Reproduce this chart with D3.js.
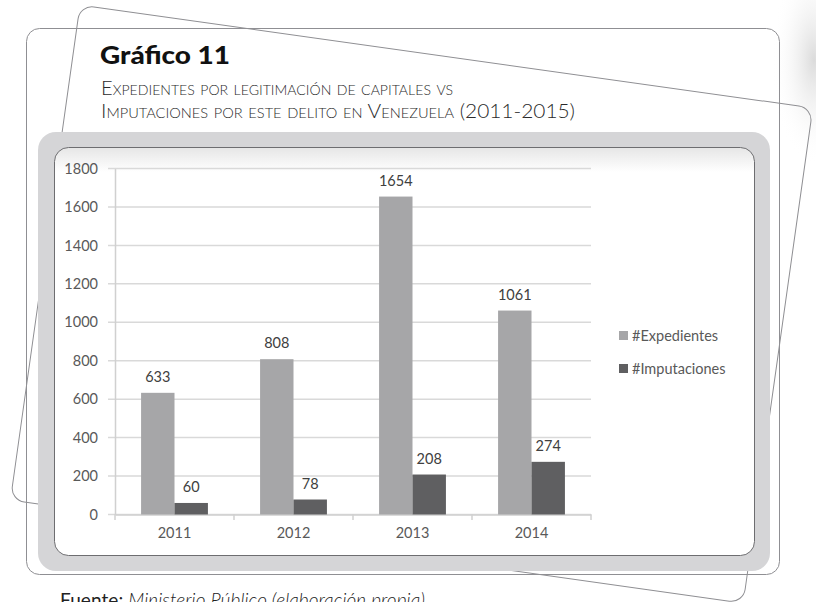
<!DOCTYPE html>
<html>
<head>
<meta charset="utf-8">
<script src="https://cdn.jsdelivr.net/npm/d3@7"></script>
<style>
  html, body { margin: 0; padding: 0; background: #fff; }
  svg { display: block; }
</style>
</head>
<body>
<svg id="chart" width="816" height="602"></svg>
<script>
// ---- data ----
const years = ["2011", "2012", "2013", "2014"];
const seriesNames = ["#Expedientes", "#Imputaciones"];
const expedientes = [633, 808, 1654, 1061];
const imputaciones = [60, 78, 208, 274];
const yTicks = [0, 200, 400, 600, 800, 1000, 1200, 1400, 1600, 1800];
const seriesColors = ["#a6a6a8", "#5f5f61"];
const titleText = "Gráfico 11";
const subtitleLines = ["Expedientes por legitimación de capitales vs",
                       "Imputaciones por este delito en Venezuela (2011-2015)"];
const sourceLabel = "Fuente:";
const sourceText = "Ministerio Público (elaboración propia)";

const rows = years.map((y, i) => ({ year: y, values: [expedientes[i], imputaciones[i]] }));

const svg = d3.select("#chart");
const defs = svg.append("defs");

// smudge gradient
const rg = defs.append("radialGradient").attr("id", "smudge");
rg.append("stop").attr("offset", "0%").attr("stop-color", "#cfcfcf").attr("stop-opacity", 0.75);
rg.append("stop").attr("offset", "100%").attr("stop-color", "#ffffff").attr("stop-opacity", 0);
svg.append("ellipse").attr("cx", 814).attr("cy", 60).attr("rx", 42).attr("ry", 105)
  .attr("fill", "url(#smudge)");

// inner panel gradient (soft shading near the top edge)
const lg = defs.append("linearGradient").attr("id", "panelTop").attr("x1", 0).attr("y1", 0).attr("x2", 0).attr("y2", 1);
lg.append("stop").attr("offset", "0%").attr("stop-color", "#e6e6e6");
lg.append("stop").attr("offset", "6%").attr("stop-color", "#ffffff");
lg.append("stop").attr("offset", "100%").attr("stop-color", "#ffffff");

// ---- decorative frames ----
svg.append("rect")
  .attr("transform", "translate(80,5) rotate(8)")
  .attr("x", 0).attr("y", 0).attr("width", 740).attr("height", 500)
  .attr("rx", 14).attr("ry", 14)
  .attr("fill", "none").attr("stroke", "#8f8f93").attr("stroke-width", 1);

svg.append("rect")
  .attr("x", 26.5).attr("y", 28.5).attr("width", 753).attr("height", 546)
  .attr("rx", 13).attr("ry", 13)
  .attr("fill", "none").attr("stroke", "#8f8f93").attr("stroke-width", 1);

svg.append("rect")
  .attr("x", 38).attr("y", 132).attr("width", 732).attr("height", 439)
  .attr("rx", 18).attr("ry", 18)
  .attr("fill", "#d5d5d7");

svg.append("rect")
  .attr("x", 54.5).attr("y", 147.5).attr("width", 700).attr("height", 408)
  .attr("rx", 14).attr("ry", 14)
  .attr("fill", "url(#panelTop)").attr("stroke", "#6d6d70").attr("stroke-width", 1);

// ---- titles ----
svg.append("text")
  .attr("x", 100).attr("y", 64)
  .attr("font-family", "Lato, 'Noto Sans', sans-serif")
  .attr("font-weight", 900).attr("font-size", 24).attr("fill", "#111")
  .attr("textLength", 130).attr("lengthAdjust", "spacingAndGlyphs")
  .text(titleText);

const subLens = [352, 474];
svg.selectAll("text.sub").data(subtitleLines).enter().append("text")
  .attr("class", "sub")
  .attr("x", 101).attr("y", (d, i) => 95 + i * 23)
  .attr("font-family", "Lato, 'Noto Sans', sans-serif")
  .attr("font-weight", 300).attr("font-size", 20).attr("fill", "#2a2a2a")
  .attr("textLength", (d, i) => subLens[i]).attr("lengthAdjust", "spacingAndGlyphs")
  .style("font-variant-caps", "small-caps")
  .text(d => d);

// source line (cut at the bottom edge, as in the reference)
const src = svg.append("text").attr("x", 60).attr("y", 607)
  .attr("font-family", "Lato, 'Noto Sans', sans-serif").attr("font-size", 19).attr("fill", "#222")
  .attr("textLength", 365).attr("lengthAdjust", "spacing");
src.append("tspan").attr("font-weight", 400).text(sourceLabel + " ");
src.append("tspan").attr("font-weight", 300).attr("font-style", "italic").text(sourceText);

// ---- chart ----
const x0 = d3.scaleBand().domain(years).range([115, 591]).paddingInner(0).paddingOuter(0);
const x1 = d3.scaleBand().domain(seriesNames).range([0, x0.bandwidth()]).paddingInner(0).paddingOuter(0.78);
const y = d3.scaleLinear().domain([0, 1800]).range([514.5, 168.5]);

const font = "Lato, 'Open Sans', sans-serif";
const textColor = "#595959";

svg.append("g").selectAll("line").data(yTicks).enter().append("line")
  .attr("x1", 108).attr("x2", 591)
  .attr("y1", d => y(d)).attr("y2", d => y(d))
  .attr("stroke", "#d9d9d9").attr("stroke-width", 1.5);

const yAxis = svg.append("g").attr("transform", "translate(115,0)")
  .call(d3.axisLeft(y).tickValues(yTicks).tickSize(0).tickPadding(17).tickFormat(d3.format("d")));
yAxis.select(".domain").attr("stroke", "#d0d0d0").attr("stroke-width", 1.5);
yAxis.selectAll("text").attr("font-family", font).attr("font-size", 14.5).attr("fill", textColor);

const xAxis = svg.append("g").attr("transform", "translate(0,514.5)")
  .call(d3.axisBottom(x0).tickSize(0).tickPadding(13));
xAxis.select(".domain").attr("stroke", "#d0d0d0").attr("stroke-width", 1.5);
xAxis.selectAll("text").attr("font-family", font).attr("font-size", 14.5).attr("fill", textColor);
svg.append("g").selectAll("line").data(years.concat(["end"])).enter().append("line")
  .attr("x1", (d, i) => i < years.length ? x0(d) : x0(years[years.length - 1]) + x0.bandwidth())
  .attr("x2", (d, i) => i < years.length ? x0(d) : x0(years[years.length - 1]) + x0.bandwidth())
  .attr("y1", 514.5).attr("y2", 520)
  .attr("stroke", "#d0d0d0").attr("stroke-width", 1.5);

const groups = svg.append("g").selectAll("g").data(rows).enter().append("g")
  .attr("transform", d => `translate(${x0(d.year)},0)`);
groups.selectAll("rect").data(d => d.values.map((v, i) => ({ name: seriesNames[i], v, i })))
  .enter().append("rect")
  .attr("x", d => x1(d.name)).attr("width", x1.bandwidth())
  .attr("y", d => y(d.v)).attr("height", d => y(0) - y(d.v))
  .attr("fill", d => seriesColors[d.i]);
groups.selectAll("text").data(d => d.values.map((v, i) => ({ name: seriesNames[i], v, i })))
  .enter().append("text")
  .attr("x", d => x1(d.name) + x1.bandwidth() / 2)
  .attr("y", d => y(d.v) - 11)
  .attr("text-anchor", "middle")
  .attr("font-family", font).attr("font-size", 14.5).attr("fill", "#404040")
  .text(d => d.v);

const legend = svg.append("g").selectAll("g").data(seriesNames).enter().append("g")
  .attr("transform", (d, i) => `translate(619,${331 + i * 33})`);
legend.append("rect").attr("width", 9).attr("height", 9).attr("fill", (d, i) => seriesColors[i]);
legend.append("text").attr("x", 13).attr("y", 9.5)
  .attr("font-family", font).attr("font-size", 14.5).attr("fill", textColor)
  .text(d => d);
</script>
</body>
</html>
